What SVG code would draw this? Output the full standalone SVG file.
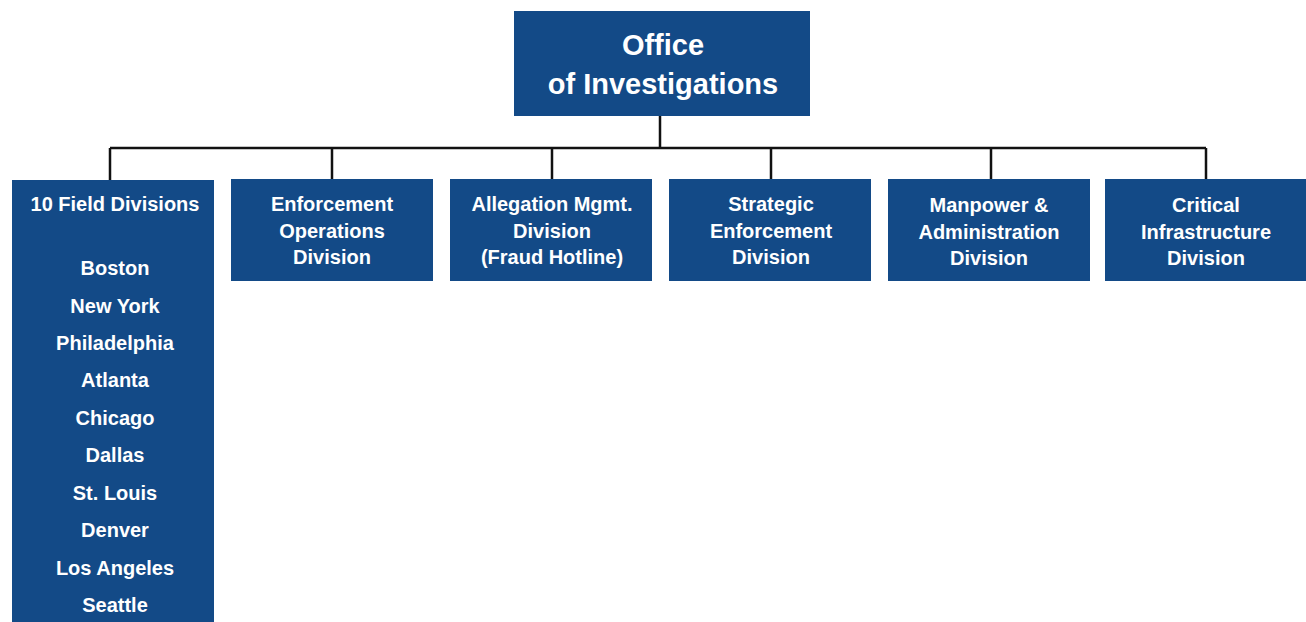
<svg xmlns="http://www.w3.org/2000/svg" width="1306" height="622" viewBox="0 0 1306 622">
<style>
.box{fill:#134a87}
.t{font-family:"Liberation Sans",Arial,sans-serif;font-weight:bold;fill:#ffffff;text-anchor:middle;font-size:20px}
.big{font-size:29px}
.conn{stroke:#111111;stroke-width:2.5;fill:none}
</style>
<rect width="1306" height="622" fill="#ffffff"/>
<g id="connectors">
<path class="conn" d="M660 116V148M110 148H1206M110 148V180M332 148V179M552 148V179M771 148V179M991 148V179M1206 148V179"/>
</g>
<g id="office">
<rect class="box" x="514" y="11" width="296" height="105"/>
<text class="t big" x="663" y="55">Office</text>
<text class="t big" x="663" y="94">of Investigations</text>
</g>
<g id="field">
<rect class="box" x="12" y="180" width="202" height="442"/>
<text class="t" x="115" y="211">10 Field Divisions</text>
<text class="t" x="115" y="275">Boston</text>
<text class="t" x="115" y="312.5">New York</text>
<text class="t" x="115" y="350">Philadelphia</text>
<text class="t" x="115" y="387">Atlanta</text>
<text class="t" x="115" y="425">Chicago</text>
<text class="t" x="115" y="462">Dallas</text>
<text class="t" x="115" y="499.5">St. Louis</text>
<text class="t" x="115" y="537">Denver</text>
<text class="t" x="115" y="574.5">Los Angeles</text>
<text class="t" x="115" y="612">Seattle</text>
</g>
<g id="enforcement">
<rect class="box" x="231" y="179" width="202" height="102"/>
<text class="t" x="332" y="211">Enforcement</text>
<text class="t" x="332" y="238">Operations</text>
<text class="t" x="332" y="264">Division</text>
</g>
<g id="allegation">
<rect class="box" x="450" y="179" width="202" height="102"/>
<text class="t" x="552" y="211">Allegation Mgmt.</text>
<text class="t" x="552" y="238">Division</text>
<text class="t" x="552" y="264">(Fraud Hotline)</text>
</g>
<g id="strategic">
<rect class="box" x="669" y="179" width="202" height="102"/>
<text class="t" x="771" y="211">Strategic</text>
<text class="t" x="771" y="238">Enforcement</text>
<text class="t" x="771" y="264">Division</text>
</g>
<g id="manpower">
<rect class="box" x="888" y="179" width="202" height="102"/>
<text class="t" x="989" y="212">Manpower &amp;</text>
<text class="t" x="989" y="238.5">Administration</text>
<text class="t" x="989" y="265">Division</text>
</g>
<g id="critical">
<rect class="box" x="1105" y="179" width="201" height="102"/>
<text class="t" x="1206" y="212">Critical</text>
<text class="t" x="1206" y="238.5">Infrastructure</text>
<text class="t" x="1206" y="265">Division</text>
</g>
</svg>
